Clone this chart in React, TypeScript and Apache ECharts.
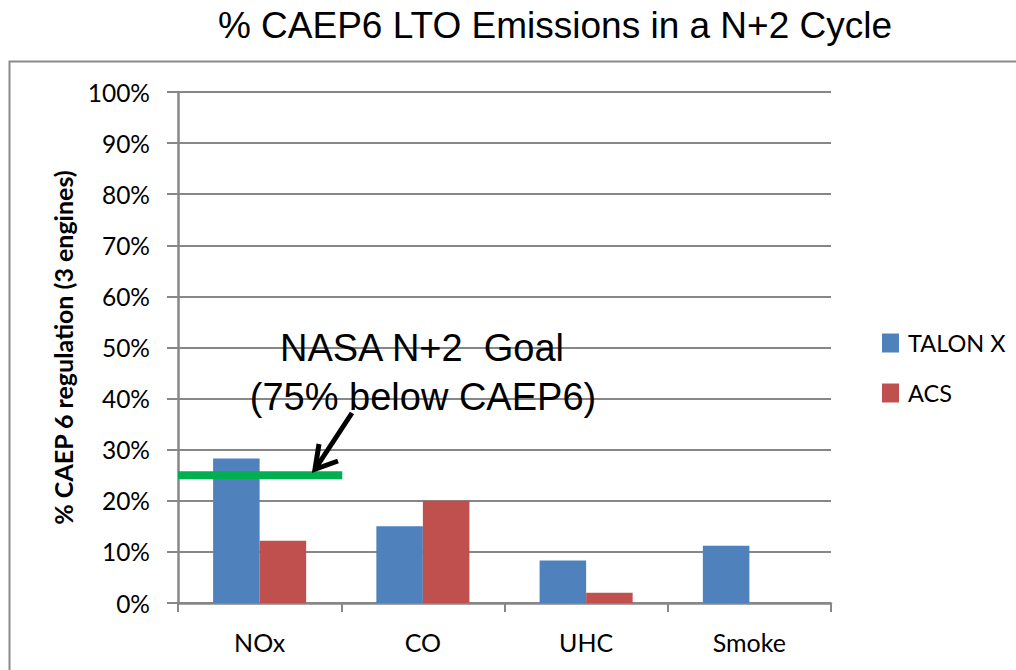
import React, { useEffect, useRef } from "react";
import * as echarts from "echarts";

const categories = ["NOx", "CO", "UHC", "Smoke"];
const talonX = [28.3, 15.0, 8.3, 11.2];
const acs = [12.2, 20.0, 2.0, 0];
const yTicks = [0, 10, 20, 30, 40, 50, 60, 70, 80, 90, 100];
const goalValue = 25;
const seriesNames = ["TALON X", "ACS"];
const colors = ["#4F81BD", "#C0504D"];

const GRID_LEFT = 178;
const GRID_RIGHT = 185;
const GRID_TOP = 92;
const GRID_BOTTOM = 67;
const W = 1016;
const H = 670;
const AX = "#878787";
const LABEL_FONT = "Lato, 'Open Sans', sans-serif";
const ARIAL = "'Liberation Sans', Arial, sans-serif";

export default function App() {
  const ref = useRef<HTMLDivElement>(null);
  useEffect(() => {
    if (!ref.current) return;
    const chart = echarts.init(ref.current, null, { renderer: "svg" });
    const option: any = {
      animation: false,
      backgroundColor: "#ffffff",
      title: {
        text: "% CAEP6 LTO Emissions in a N+2 Cycle",
        left: 550,
        textAlign: "center",
        top: 2,
        textStyle: { fontFamily: ARIAL, fontSize: 37, fontWeight: "normal", color: "#000" },
      },
      legend: {
        orient: "vertical",
        left: 877,
        top: 326,
        itemWidth: 17,
        itemHeight: 19,
        itemGap: 26,
        icon: "rect",
        data: seriesNames,
        textStyle: { fontFamily: LABEL_FONT, fontSize: 23.5, color: "#000", padding: [0, 0, 0, 4] },
      },
      grid: { left: GRID_LEFT, right: GRID_RIGHT, top: GRID_TOP, bottom: GRID_BOTTOM, containLabel: false },
      xAxis: {
        type: "category",
        data: categories,
        axisLine: { show: true, lineStyle: { color: AX, width: 2.5 } },
        axisTick: { show: true, alignWithLabel: false, interval: 0, length: 9, lineStyle: { color: AX, width: 2 } },
        axisLabel: { margin: 26, fontFamily: LABEL_FONT, fontSize: 25, color: "#000" },
        splitLine: { show: false },
      },
      yAxis: {
        type: "value",
        min: 0,
        max: 100,
        interval: 10,
        name: "% CAEP 6 regulation (3 engines)",
        nameLocation: "middle",
        nameGap: 103,
        nameRotate: 90,
        nameTextStyle: { fontFamily: LABEL_FONT, fontSize: 25, fontWeight: "bold", color: "#000" },
        axisLine: { show: true, lineStyle: { color: AX, width: 2.5 } },
        axisTick: { show: true, inside: false, length: 11, lineStyle: { color: AX, width: 2 } },
        axisLabel: {
          margin: 28,
          fontFamily: LABEL_FONT,
          fontSize: 24.5,
          color: "#000",
          formatter: (v: number) => (yTicks.includes(v) ? v + "%" : ""),
        },
        splitLine: { show: true, lineStyle: { color: AX, width: 2 } },
      },
      series: [
        {
          name: seriesNames[0],
          type: "bar",
          data: talonX,
          itemStyle: { color: colors[0] },
          barGap: "0%",
          barCategoryGap: "43%",
        },
        {
          name: seriesNames[1],
          type: "bar",
          data: acs,
          itemStyle: { color: colors[1] },
          barGap: "0%",
          barCategoryGap: "43%",
        },
      ],
    };
    chart.setOption(option);

    const goalY = chart.convertToPixel({ yAxisIndex: 0 }, goalValue) as number;
    const catW = (W - GRID_LEFT - GRID_RIGHT) / categories.length;
    const goalX1 = GRID_LEFT + catW + 1;
    const tipX = 315;
    const tipY = goalY - 6;

    chart.setOption({
      graphic: [
        {
          type: "rect",
          shape: { x: 9.5, y: 61.5, width: W + 20, height: H },
          style: { fill: "none", stroke: "#8a8a8a", lineWidth: 2 },
          silent: true,
          z: 0,
        },
        {
          type: "line",
          shape: { x1: GRID_LEFT, y1: goalY, x2: goalX1, y2: goalY },
          style: { stroke: "#00B050", lineWidth: 8 },
          z: 100,
        },
        {
          type: "line",
          shape: { x1: 352, y1: 413, x2: tipX + 2, y2: tipY - 3 },
          style: { stroke: "#000", lineWidth: 5 },
          z: 100,
        },
        {
          type: "polyline",
          shape: { points: [[319, 444], [tipX, tipY], [338, 461]] },
          style: { stroke: "#000", fill: "none", lineWidth: 5, lineJoin: "miter" },
          z: 100,
        },
        {
          type: "text",
          x: 422,
          y: 348,
          style: {
            text: "NASA N+2  Goal",
            fontFamily: ARIAL,
            fontSize: 38,
            fill: "#000",
            align: "center",
            verticalAlign: "middle",
          },
          z: 100,
        },
        {
          type: "text",
          x: 423,
          y: 397,
          style: {
            text: "(75% below CAEP6)",
            fontFamily: ARIAL,
            fontSize: 38,
            fill: "#000",
            align: "center",
            verticalAlign: "middle",
          },
          z: 100,
        },
      ],
    });

    return () => chart.dispose();
  }, []);
  return (
    <div
      ref={ref}
      style={{ position: "fixed", left: 0, top: 0, width: W, height: H, background: "#fff" }}
    />
  );
}
